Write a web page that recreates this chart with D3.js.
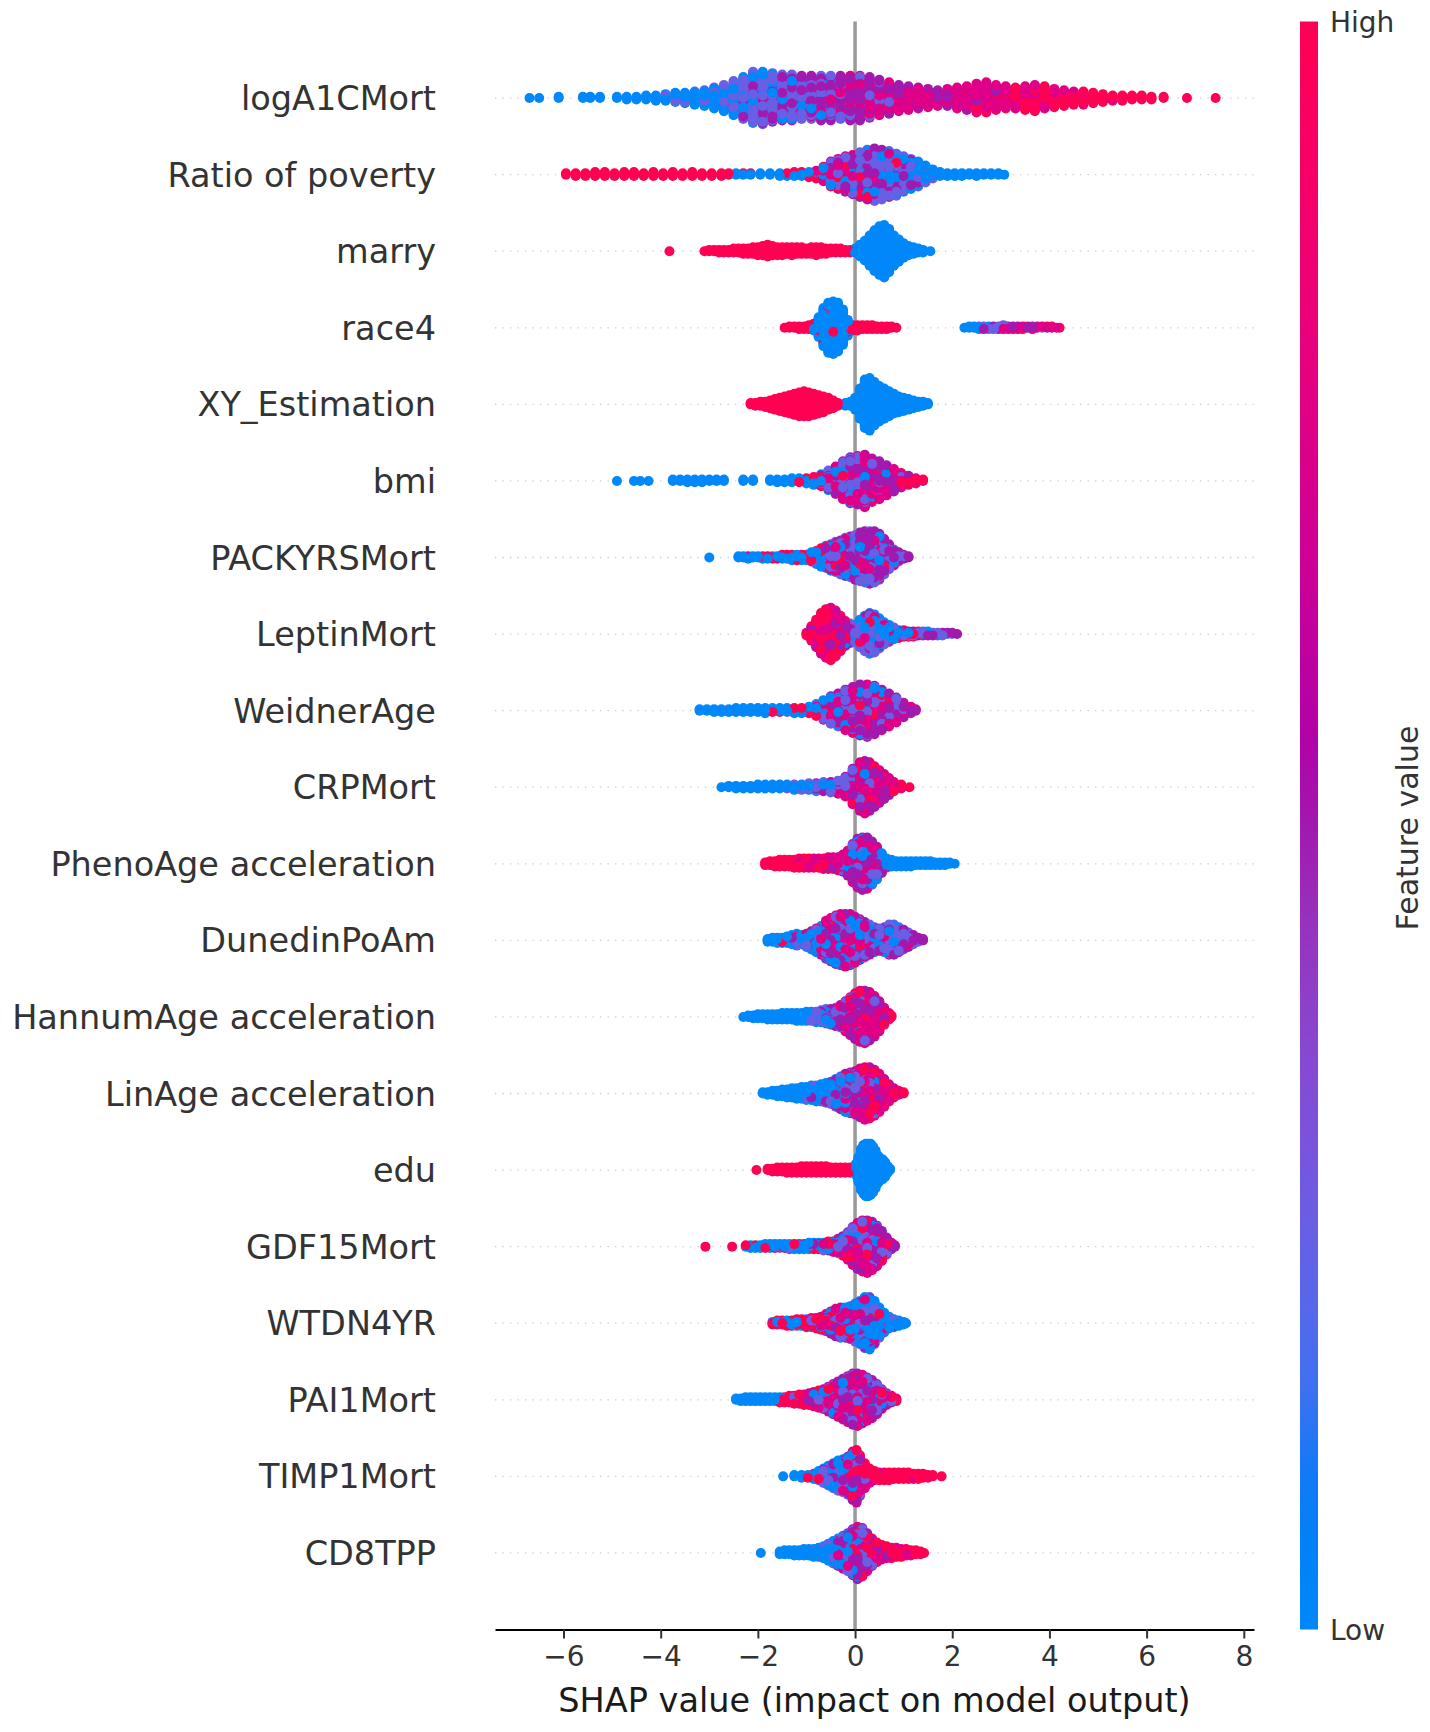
<!DOCTYPE html>
<html><head><meta charset="utf-8">
<script src="https://cdn.jsdelivr.net/npm/d3@7"></script>
<style>html,body{margin:0;padding:0;background:#fff}</style>
</head><body><svg id="chart" width="1430" height="1732"></svg>
<script>
// ---------------- DATA ----------------
const features = ["logA1CMort","Ratio of poverty","marry","race4","XY_Estimation","bmi","PACKYRSMort","LeptinMort","WeidnerAge","CRPMort","PhenoAge acceleration","DunedinPoAm","HannumAge acceleration","LinAge acceleration","edu","GDF15Mort","WTDN4YR","PAI1Mort","TIMP1Mort","CD8TPP"];
const featureLevels = [0, 0.25, 0.5, 0.75, 1];   // normalized feature value (Low -> High)
const xTicks = [-6,-4,-2,0,2,4,6,8];
const colorbarLabels = ["Low","High"];
// each entry: [SHAP value, number of samples at feature level 0, 0.25, 0.5, 0.75, 1]
const r_logA1CMort = [[-6.7,1,0,0,0,0],[-6.5,1,0,0,0,0],[-6.1,2,0,0,0,0],[-5.6,2,0,0,0,0],[-5.45,2,0,0,0,0],[-5.25,2,0,0,0,0],[-4.9,2,0,0,0,0],[-4.7,3,0,0,0,0],[-4.5,3,0,0,0,0],[-4.3,4,0,0,0,0],[-4.1,5,0,0,0,0],[-3.9,5,1,0,0,0],[-3.7,7,1,0,0,0],[-3.5,7,2,0,0,0],[-3.3,8,3,0,0,0],[-3.1,9,4,0,0,0],[-2.9,11,6,0,0,0],[-2.7,12,8,1,0,0],[-2.5,13,12,2,0,0],[-2.3,13,16,4,0,0],[-2.1,12,20,8,0,0],[-1.9,10,22,9,0,0],[-1.7,8,20,10,0,0],[-1.5,6,18,12,0,0],[-1.3,5,16,14,1,0],[-1.1,4,14,14,2,0],[-0.9,3,12,16,3,0],[-0.7,2,12,17,4,0],[-0.5,2,10,17,6,0],[-0.3,1,8,18,7,0],[-0.1,1,6,20,8,0],[0.1,0,5,20,10,0],[0.3,0,4,18,10,0],[0.5,0,3,14,11,0],[0.7,0,2,12,11,0],[0.9,0,1,9,11,0],[1.1,0,0,8,11,0],[1.3,0,0,6,11,0],[1.5,0,0,5,10,0],[1.7,0,0,4,9,0],[1.9,0,0,4,10,0],[2.1,0,0,4,12,1],[2.3,0,0,3,14,2],[2.5,0,0,3,16,4],[2.7,0,0,2,16,6],[2.9,0,0,1,13,6],[3.1,0,0,1,11,6],[3.3,0,0,0,9,8],[3.5,0,0,0,9,10],[3.7,0,0,0,9,12],[3.9,0,0,0,7,11],[4.1,0,0,0,5,10],[4.3,0,0,0,4,9],[4.5,0,0,0,3,8],[4.7,0,0,0,2,9],[4.9,0,0,0,2,7],[5.1,0,0,0,1,6],[5.3,0,0,0,1,4],[5.5,0,0,0,0,5],[5.7,0,0,0,0,4],[5.9,0,0,0,0,4],[6.1,0,0,0,0,3],[6.35,0,0,0,0,2],[6.83,0,0,0,0,1],[7.42,0,0,0,0,1]];
const r_poverty = [[-5.95,0,0,0,0,2],[-5.75,0,0,0,0,3],[-5.55,0,0,0,0,3],[-5.35,0,0,0,0,4],[-5.15,0,0,0,0,4],[-4.95,0,0,0,0,3],[-4.75,0,0,0,0,4],[-4.55,0,0,0,0,4],[-4.35,0,0,0,0,3],[-4.15,0,0,0,0,4],[-3.95,0,0,0,0,3],[-3.75,0,0,0,0,4],[-3.55,0,0,0,0,3],[-3.35,0,0,0,0,4],[-3.15,0,0,0,0,3],[-2.95,0,0,0,0,3],[-2.75,0,0,0,0,3],[-2.6,0,0,0,0,2],[-2.45,2,0,0,0,0],[-2.3,1,0,0,0,1],[-2.15,1,0,0,0,1],[-1.95,2,0,0,0,0],[-1.75,2,0,0,0,0],[-1.55,3,0,0,0,0],[-1.4,2,0,0,0,1],[-1.25,2,0,0,0,2],[-1.1,2,0,0,0,2],[-0.95,2,0,0,1,2],[-0.8,2,1,0,2,2],[-0.65,3,2,1,3,3],[-0.5,4,4,3,5,4],[-0.35,4,5,5,6,4],[-0.2,4,6,7,7,4],[-0.05,4,7,9,7,4],[0.1,5,9,11,6,4],[0.25,6,11,12,6,4],[0.4,7,13,12,6,3],[0.55,8,14,11,4,2],[0.7,9,14,9,3,1],[0.85,9,13,8,2,1],[1.0,9,11,6,2,0],[1.15,9,9,5,1,0],[1.3,9,7,4,0,0],[1.45,7,5,2,0,0],[1.6,5,2,1,0,0],[1.75,4,0,0,0,0],[1.9,3,0,0,0,0],[2.05,3,0,0,0,0],[2.2,3,0,0,0,0],[2.35,2,0,0,0,0],[2.5,3,0,0,0,0],[2.65,2,0,0,0,0],[2.8,2,0,0,0,0],[2.95,2,0,0,0,0],[3.07,1,0,0,0,0]];
const r_marry = [[-3.82,0,0,0,0,1],[-3.1,0,0,0,0,1],[-3.0,0,0,0,0,2],[-2.9,0,0,0,0,2],[-2.8,0,0,0,0,3],[-2.7,0,0,0,0,3],[-2.6,0,0,0,0,3],[-2.5,0,0,0,0,4],[-2.4,0,0,0,0,4],[-2.3,0,0,0,0,5],[-2.2,0,0,0,0,5],[-2.1,0,0,0,0,6],[-2.0,0,0,0,0,7],[-1.9,0,0,0,0,8],[-1.8,0,0,0,0,10],[-1.7,0,0,0,0,8],[-1.6,0,0,0,0,7],[-1.5,0,0,0,0,7],[-1.4,0,0,0,0,6],[-1.3,0,0,0,0,7],[-1.2,0,0,0,0,6],[-1.1,0,0,0,0,6],[-1.0,0,0,0,0,5],[-0.9,0,0,0,0,6],[-0.8,0,0,0,0,7],[-0.7,0,0,0,0,6],[-0.6,0,0,0,0,5],[-0.5,0,0,0,0,4],[-0.4,0,0,0,0,4],[-0.3,0,0,0,0,4],[-0.2,0,0,0,0,3],[-0.1,0,0,0,0,3],[0.0,4,0,0,0,0],[0.1,10,0,0,0,0],[0.2,16,0,0,0,0],[0.3,24,0,0,0,0],[0.4,32,0,0,0,0],[0.5,38,0,0,0,0],[0.6,41,0,0,0,0],[0.7,34,0,0,0,0],[0.8,24,0,0,0,0],[0.9,18,0,0,0,0],[1.0,12,0,0,0,0],[1.1,8,0,0,0,0],[1.2,6,0,0,0,0],[1.3,4,0,0,0,0],[1.4,3,0,0,0,0],[1.55,1,0,0,0,0]];
const r_race4 = [[-1.45,0,0,0,0,1],[-1.35,0,0,0,0,2],[-1.25,0,0,0,0,2],[-1.15,0,0,0,0,3],[-1.05,0,0,0,0,3],[-0.95,0,0,0,0,4],[-0.85,3,0,0,0,3],[-0.75,14,0,0,0,2],[-0.65,28,0,0,0,2],[-0.55,36,0,0,1,2],[-0.45,38,0,0,0,3],[-0.35,34,0,0,2,2],[-0.25,26,0,0,0,2],[-0.15,10,0,0,0,3],[-0.05,0,0,0,0,5],[0.05,0,0,0,0,5],[0.15,0,0,0,0,4],[0.25,0,0,0,0,4],[0.35,0,0,0,0,4],[0.45,0,0,0,0,3],[0.55,0,0,0,0,3],[0.65,0,0,0,0,3],[0.75,0,0,0,0,2],[0.85,0,0,0,0,1],[2.25,1,0,0,0,0],[2.35,2,0,0,0,0],[2.45,2,0,0,0,0],[2.55,2,1,0,0,0],[2.65,1,1,1,0,0],[2.75,1,2,0,0,0],[2.85,0,2,1,0,0],[2.95,1,1,1,0,0],[3.05,0,2,1,1,0],[3.15,1,0,1,1,0],[3.25,0,1,1,1,0],[3.35,0,0,1,2,0],[3.45,0,1,0,1,1],[3.55,0,0,1,1,0],[3.65,0,1,1,1,0],[3.75,0,0,1,1,0],[3.85,0,1,0,1,0],[3.95,0,0,1,0,1],[4.05,0,0,0,1,1],[4.15,0,0,0,1,0],[4.21,0,0,0,0,1]];
const r_xy = [[-2.15,0,0,0,0,2],[-2.05,0,0,0,0,3],[-1.95,0,0,0,0,4],[-1.85,0,0,0,0,5],[-1.75,0,0,0,0,7],[-1.65,0,0,0,0,9],[-1.55,0,0,0,0,11],[-1.45,0,0,0,0,13],[-1.35,0,0,0,0,15],[-1.25,0,0,0,0,17],[-1.15,0,0,0,0,19],[-1.05,0,0,0,0,20],[-0.95,0,0,0,0,19],[-0.85,0,0,0,0,17],[-0.75,0,0,0,0,15],[-0.65,0,0,0,0,13],[-0.55,0,0,0,0,10],[-0.45,0,0,0,0,7],[-0.35,0,0,0,0,3],[-0.2,3,0,0,0,0],[-0.1,4,0,0,0,0],[0.0,10,0,0,0,0],[0.1,24,0,0,0,0],[0.2,38,0,0,0,0],[0.3,41,0,0,0,0],[0.4,34,0,0,0,0],[0.5,28,0,0,0,0],[0.6,24,0,0,0,0],[0.7,20,0,0,0,0],[0.8,16,0,0,0,0],[0.9,13,0,0,0,0],[1.0,11,0,0,0,0],[1.1,9,0,0,0,0],[1.2,7,0,0,0,0],[1.3,5,0,0,0,0],[1.4,4,0,0,0,0],[1.5,2,0,0,0,0]];
const r_bmi = [[-4.9,1,0,0,0,0],[-4.55,1,0,0,0,0],[-4.42,1,0,0,0,0],[-4.25,1,0,0,0,0],[-3.75,2,0,0,0,0],[-3.6,2,0,0,0,0],[-3.45,3,0,0,0,0],[-3.3,3,0,0,0,0],[-3.15,3,0,0,0,0],[-3.0,2,0,0,0,0],[-2.85,2,0,0,0,0],[-2.7,2,0,0,0,0],[-2.3,2,0,0,0,0],[-2.1,2,0,0,0,0],[-1.75,2,0,0,0,0],[-1.6,3,0,0,0,0],[-1.45,3,0,0,0,0],[-1.3,4,0,0,0,0],[-1.15,3,0,0,0,1],[-1.0,3,0,0,0,2],[-0.85,4,1,0,0,2],[-0.7,3,2,1,2,2],[-0.55,4,4,3,3,2],[-0.4,5,5,5,5,2],[-0.25,5,7,9,7,2],[-0.1,5,8,11,10,2],[0.05,4,8,12,12,2],[0.2,3,8,14,14,2],[0.35,2,6,13,11,2],[0.5,1,5,12,10,2],[0.65,1,3,10,8,2],[0.8,0,2,7,7,2],[0.95,0,1,4,5,2],[1.1,0,0,2,4,2],[1.25,0,0,1,2,2],[1.4,0,0,0,1,1]];
const r_packyrs = [[-3.0,1,0,0,0,0],[-2.4,2,0,0,0,0],[-2.3,2,0,0,0,0],[-2.2,2,0,0,0,1],[-2.1,2,0,0,0,0],[-2.0,2,0,0,0,0],[-1.9,2,0,0,0,1],[-1.8,2,0,0,0,1],[-1.7,1,0,0,0,2],[-1.6,1,0,0,0,2],[-1.5,2,0,0,0,2],[-1.4,2,0,0,0,2],[-1.3,3,0,0,0,2],[-1.2,2,0,0,0,3],[-1.1,3,0,0,0,2],[-1.0,3,0,0,0,2],[-0.9,4,1,0,0,3],[-0.8,5,2,0,1,3],[-0.7,6,3,0,2,4],[-0.6,6,4,2,3,3],[-0.5,6,5,3,4,3],[-0.4,6,6,5,4,3],[-0.3,6,7,6,5,3],[-0.2,6,8,7,6,3],[-0.1,6,8,8,7,3],[0.0,6,9,10,8,2],[0.1,6,10,12,8,2],[0.2,5,11,14,8,2],[0.3,5,11,15,8,2],[0.4,5,11,15,7,2],[0.5,4,10,14,6,2],[0.6,3,8,12,4,1],[0.7,2,6,9,3,0],[0.8,1,4,6,2,0],[0.9,0,3,4,1,0],[1.0,0,1,3,0,0],[1.1,0,0,2,0,0]];
const r_leptin = [[-1.0,0,0,0,1,2],[-0.9,0,0,1,4,7],[-0.8,0,0,2,8,12],[-0.7,0,0,4,10,18],[-0.6,0,0,5,12,21],[-0.5,0,1,6,13,21],[-0.4,0,2,6,12,16],[-0.3,0,2,6,10,10],[-0.2,2,3,5,6,4],[-0.1,4,4,3,3,2],[0.0,6,4,2,1,1],[0.1,10,7,3,1,1],[0.2,12,9,4,2,1],[0.3,13,10,5,3,1],[0.4,12,9,5,3,1],[0.5,10,7,4,2,1],[0.6,7,5,3,2,1],[0.7,5,4,2,2,1],[0.8,3,3,1,1,2],[0.9,2,1,0,1,3],[1.0,1,1,0,1,3],[1.1,1,1,0,1,2],[1.2,1,1,1,0,2],[1.3,1,1,1,0,1],[1.4,2,1,0,0,1],[1.5,2,1,1,0,0],[1.6,1,1,1,0,0],[1.7,2,1,0,0,0],[1.8,0,2,1,0,0],[1.9,1,0,1,0,0],[2.0,0,1,1,0,0],[2.1,0,0,1,0,0]];
const r_weidner = [[-3.2,2,0,0,0,0],[-3.05,2,0,0,0,0],[-2.9,3,0,0,0,0],[-2.75,3,0,0,0,0],[-2.6,3,0,0,0,0],[-2.45,4,0,0,0,0],[-2.3,4,0,0,0,0],[-2.15,4,0,0,0,0],[-2.0,4,0,0,0,0],[-1.85,4,0,0,0,1],[-1.7,3,0,0,0,1],[-1.55,3,0,0,0,1],[-1.4,3,1,0,0,0],[-1.25,3,1,0,0,1],[-1.1,3,1,0,0,1],[-0.95,3,1,0,0,2],[-0.8,4,2,1,1,2],[-0.65,5,3,3,3,2],[-0.5,5,5,6,4,2],[-0.35,5,6,8,5,2],[-0.2,5,7,11,7,2],[-0.05,5,8,12,8,3],[0.1,5,9,14,9,3],[0.25,5,9,14,10,3],[0.4,4,8,14,9,3],[0.55,3,7,12,8,2],[0.7,2,6,10,6,2],[0.85,1,4,8,5,2],[1.0,0,3,5,3,1],[1.15,0,1,2,2,1],[1.25,0,0,1,1,0]];
const r_crp = [[-2.75,1,0,0,0,0],[-2.6,2,0,0,0,0],[-2.45,3,0,0,0,0],[-2.3,3,0,0,0,0],[-2.15,3,0,0,0,0],[-2.0,4,0,0,0,0],[-1.85,4,0,0,0,0],[-1.7,4,0,0,0,0],[-1.55,4,0,0,0,0],[-1.4,3,1,0,0,0],[-1.25,3,2,0,0,0],[-1.1,2,3,0,0,0],[-0.95,2,3,1,0,0],[-0.8,2,3,2,0,0],[-0.65,1,4,3,0,0],[-0.5,1,4,3,1,0],[-0.35,1,4,4,2,0],[-0.2,1,4,6,4,1],[-0.05,2,5,10,9,2],[0.1,2,5,13,14,4],[0.2,1,5,14,16,5],[0.3,1,4,13,15,5],[0.4,0,3,11,13,5],[0.5,0,2,9,11,4],[0.6,0,1,7,9,3],[0.7,0,0,4,7,3],[0.8,0,0,2,4,2],[0.95,0,0,0,2,2],[1.12,0,0,0,0,1]];
const r_pheno = [[-1.85,0,0,0,0,3],[-1.75,0,0,0,0,4],[-1.65,0,0,0,0,5],[-1.55,0,0,0,0,6],[-1.45,0,0,0,0,6],[-1.35,0,0,0,0,6],[-1.25,0,0,0,0,7],[-1.15,0,0,0,2,6],[-1.05,0,0,0,3,5],[-0.95,0,0,0,4,4],[-0.85,0,0,0,5,3],[-0.75,0,0,0,5,3],[-0.65,0,0,1,6,2],[-0.55,0,0,2,6,2],[-0.45,0,0,2,6,2],[-0.35,0,1,3,6,1],[-0.25,1,2,4,6,1],[-0.15,2,4,6,7,1],[-0.05,3,7,10,9,1],[0.05,4,9,13,11,1],[0.15,5,10,14,11,1],[0.25,5,10,14,10,1],[0.35,5,9,11,8,1],[0.45,5,7,8,6,0],[0.55,5,4,4,3,0],[0.65,5,2,1,0,0],[0.75,6,0,0,0,0],[0.85,5,0,0,0,0],[0.95,5,0,0,0,0],[1.05,5,0,0,0,0],[1.15,5,0,0,0,0],[1.25,4,0,0,0,0],[1.35,4,0,0,0,0],[1.45,4,0,0,0,0],[1.55,4,0,0,0,0],[1.65,3,0,0,0,0],[1.75,3,0,0,0,0],[1.85,3,0,0,0,0],[1.95,2,0,0,0,0],[2.05,1,0,0,0,0]];
const r_dunedin = [[-1.8,3,0,0,0,0],[-1.7,4,0,0,0,0],[-1.6,5,0,0,0,0],[-1.5,4,0,0,0,1],[-1.4,5,0,0,1,0],[-1.3,6,0,1,0,1],[-1.2,6,2,0,1,1],[-1.1,5,1,0,1,1],[-1.0,5,2,1,2,1],[-0.9,6,3,2,3,1],[-0.8,6,4,4,4,1],[-0.7,6,5,5,6,1],[-0.6,6,6,8,8,2],[-0.5,6,7,9,9,3],[-0.4,6,8,10,11,3],[-0.3,6,8,11,12,3],[-0.2,6,8,11,13,3],[-0.1,6,8,11,12,3],[0.0,6,8,10,9,3],[0.1,6,8,8,8,2],[0.2,6,7,8,5,2],[0.3,6,7,6,4,1],[0.4,6,6,5,2,1],[0.5,5,6,5,2,0],[0.6,6,7,5,2,0],[0.7,6,9,7,2,0],[0.8,5,9,8,2,0],[0.9,4,8,7,1,0],[1.0,3,6,6,1,0],[1.1,2,5,4,1,0],[1.2,1,3,4,0,0],[1.3,0,2,2,0,0],[1.4,0,0,2,0,0]];
const r_hannum = [[-2.3,1,0,0,0,0],[-2.2,2,0,0,0,0],[-2.1,3,0,0,0,0],[-2.0,4,0,0,0,0],[-1.9,4,0,0,0,0],[-1.8,5,0,0,0,0],[-1.7,5,0,0,0,0],[-1.6,5,0,0,0,0],[-1.5,6,0,0,0,0],[-1.4,6,0,0,0,0],[-1.3,6,0,0,0,0],[-1.2,7,0,0,0,0],[-1.1,7,0,0,0,0],[-1.0,7,1,0,0,0],[-0.9,6,2,0,0,0],[-0.8,5,3,1,0,0],[-0.7,4,4,2,0,0],[-0.6,4,5,3,0,0],[-0.5,3,5,4,1,0],[-0.4,3,5,5,2,0],[-0.3,2,5,6,4,1],[-0.2,2,5,8,7,2],[-0.1,2,5,9,11,3],[0.0,1,5,10,15,5],[0.1,1,4,11,17,7],[0.2,1,4,11,17,8],[0.3,0,3,10,17,8],[0.4,0,2,9,14,7],[0.5,0,1,7,10,6],[0.6,0,0,3,7,4],[0.7,0,0,1,3,2],[0.75,0,0,0,1,1]];
const r_linage = [[-1.9,2,0,0,0,0],[-1.8,3,0,0,0,0],[-1.7,4,0,0,0,0],[-1.6,5,0,0,0,0],[-1.5,6,0,0,0,0],[-1.4,7,0,0,0,0],[-1.3,8,0,0,0,0],[-1.2,8,1,0,0,0],[-1.1,9,1,0,0,0],[-1.0,9,2,0,0,0],[-0.9,9,2,1,0,0],[-0.8,9,3,1,0,0],[-0.7,9,3,1,1,0],[-0.6,9,4,2,1,0],[-0.5,9,4,3,1,1],[-0.4,9,5,4,3,1],[-0.3,8,6,6,4,2],[-0.2,7,6,7,6,4],[-0.1,6,6,8,7,5],[0.0,5,6,8,10,5],[0.1,4,5,9,13,7],[0.2,3,5,9,15,9],[0.3,2,4,9,15,10],[0.4,1,3,8,14,10],[0.5,0,2,7,12,9],[0.6,0,1,5,9,7],[0.7,0,0,3,6,5],[0.8,0,0,1,4,3],[0.9,0,0,0,2,2],[1.0,0,0,0,0,2]];
const r_edu = [[-2.03,0,0,0,0,1],[-1.8,0,0,0,0,2],[-1.7,0,0,0,0,3],[-1.6,0,0,0,0,4],[-1.5,0,0,0,0,4],[-1.4,0,0,0,0,5],[-1.3,0,0,0,0,5],[-1.2,0,0,0,0,5],[-1.1,0,0,0,0,6],[-1.0,0,0,0,0,6],[-0.9,0,0,0,0,6],[-0.8,0,0,0,0,6],[-0.7,0,0,0,0,6],[-0.6,0,0,0,0,6],[-0.5,0,0,0,0,5],[-0.4,0,0,0,0,5],[-0.3,0,0,0,0,5],[-0.2,0,0,0,0,5],[-0.1,0,0,0,0,5],[-0.02,0,0,0,0,4],[0.02,10,0,0,0,0],[0.07,20,0,0,0,0],[0.12,32,0,0,0,0],[0.17,38,0,0,0,0],[0.22,41,0,0,0,0],[0.27,41,0,0,0,0],[0.32,40,0,0,0,0],[0.37,36,0,0,0,0],[0.42,30,0,0,0,0],[0.47,22,0,0,0,0],[0.52,18,0,0,0,0],[0.57,16,0,0,0,0],[0.62,12,0,0,0,0],[0.67,6,0,0,0,0],[0.72,2,0,0,0,0]];
const r_gdf15 = [[-3.08,0,0,0,0,1],[-2.53,0,0,0,0,1],[-2.25,1,0,0,0,1],[-2.15,3,0,0,0,0],[-2.05,2,0,0,0,1],[-1.95,3,0,0,0,0],[-1.85,3,0,0,0,1],[-1.75,4,0,0,0,0],[-1.65,3,0,0,0,1],[-1.55,3,1,0,0,0],[-1.45,3,0,0,0,1],[-1.35,4,1,0,0,0],[-1.25,3,1,0,0,1],[-1.15,3,1,0,0,1],[-1.05,3,1,0,1,0],[-0.95,3,2,0,0,1],[-0.85,3,1,1,0,1],[-0.75,3,1,1,0,1],[-0.65,2,2,1,1,1],[-0.55,2,2,2,0,2],[-0.45,2,2,2,2,1],[-0.35,2,3,3,2,2],[-0.25,2,3,5,4,2],[-0.15,3,4,7,6,2],[-0.05,3,5,10,9,3],[0.05,3,6,11,12,4],[0.15,3,7,12,13,5],[0.25,3,7,13,13,5],[0.35,3,6,13,12,4],[0.45,2,5,11,10,4],[0.55,1,4,9,7,3],[0.65,1,2,5,4,2],[0.75,0,1,2,2,1],[0.82,0,0,1,1,0]];
const r_wtdn = [[-1.7,1,0,0,0,2],[-1.6,1,0,0,0,3],[-1.5,1,0,0,0,3],[-1.4,2,0,0,0,3],[-1.3,1,0,0,0,4],[-1.2,2,0,0,0,4],[-1.1,2,0,0,0,4],[-1.0,2,0,0,1,4],[-0.9,2,1,0,1,4],[-0.8,2,1,1,2,3],[-0.7,2,2,2,2,3],[-0.6,3,2,3,3,3],[-0.5,4,3,4,4,3],[-0.4,5,4,5,5,3],[-0.3,6,4,6,5,3],[-0.2,7,4,6,4,3],[-0.1,9,5,5,4,3],[0.0,12,6,5,4,3],[0.1,15,7,5,4,3],[0.2,20,8,5,4,3],[0.3,22,8,5,3,3],[0.4,19,7,4,2,2],[0.5,14,5,3,1,1],[0.6,10,3,2,1,0],[0.7,7,2,1,0,0],[0.8,5,1,1,0,0],[0.9,4,1,0,0,0],[1.0,3,0,0,0,0],[1.05,1,0,0,0,0]];
const r_pai1 = [[-2.45,2,0,0,0,0],[-2.35,3,0,0,0,0],[-2.25,4,0,0,0,0],[-2.15,4,0,0,0,0],[-2.05,4,0,0,0,0],[-1.95,4,0,0,0,0],[-1.85,4,0,0,0,0],[-1.75,4,0,0,0,0],[-1.65,4,0,0,0,0],[-1.55,2,0,0,0,3],[-1.45,1,0,0,1,3],[-1.35,1,0,0,2,3],[-1.25,1,1,0,2,3],[-1.15,1,1,1,2,3],[-1.05,1,1,1,3,3],[-0.95,1,2,2,3,2],[-0.85,2,2,2,3,3],[-0.75,2,3,3,3,3],[-0.65,2,3,4,4,3],[-0.55,3,4,6,5,2],[-0.45,3,5,7,7,2],[-0.35,3,6,9,8,2],[-0.25,3,7,10,9,3],[-0.15,3,8,11,11,3],[-0.05,4,8,12,12,4],[0.05,4,8,12,13,4],[0.15,4,7,12,12,3],[0.25,3,7,11,10,3],[0.35,3,6,10,9,2],[0.45,2,5,8,7,2],[0.55,1,3,6,5,1],[0.65,1,2,3,3,1],[0.75,0,1,2,2,1],[0.85,0,0,1,1,1]];
const r_timp1 = [[-1.48,1,0,0,0,0],[-1.25,2,0,0,0,0],[-1.1,3,0,0,0,0],[-0.97,1,0,0,0,2],[-0.85,3,1,0,0,1],[-0.75,4,2,1,0,1],[-0.65,5,4,2,0,1],[-0.55,6,5,3,1,1],[-0.45,7,6,4,2,1],[-0.35,8,7,5,3,1],[-0.25,8,7,6,4,1],[-0.15,7,7,7,6,3],[-0.05,6,7,9,9,7],[0.03,4,6,10,11,10],[0.1,2,4,8,9,9],[0.2,1,2,4,6,7],[0.3,0,0,2,4,6],[0.4,0,0,1,2,5],[0.5,0,0,0,2,5],[0.6,0,0,0,1,6],[0.7,0,0,0,1,6],[0.8,0,0,0,1,5],[0.9,0,0,0,0,6],[1.0,0,0,0,1,5],[1.1,0,0,0,0,6],[1.2,0,0,0,1,4],[1.3,0,0,0,0,5],[1.4,0,0,0,0,4],[1.5,0,0,0,0,3],[1.6,0,0,0,0,2],[1.78,0,0,0,0,1]];
const r_cd8 = [[-1.94,1,0,0,0,0],[-1.55,3,0,0,0,0],[-1.45,4,0,0,0,0],[-1.35,4,0,0,0,0],[-1.25,5,0,0,0,0],[-1.15,5,0,0,0,0],[-1.05,6,0,0,0,0],[-0.95,6,0,0,0,0],[-0.85,6,1,0,0,0],[-0.75,7,1,0,0,0],[-0.65,8,2,0,0,0],[-0.55,10,3,1,0,0],[-0.45,10,4,3,1,0],[-0.35,9,5,5,2,1],[-0.25,8,6,7,4,1],[-0.15,7,7,9,5,2],[-0.05,6,8,11,8,3],[0.05,5,8,13,10,5],[0.15,3,7,12,10,6],[0.25,2,5,9,8,6],[0.35,1,3,6,6,6],[0.45,0,1,4,5,6],[0.55,0,0,2,4,6],[0.65,0,0,1,3,6],[0.75,0,0,0,3,6],[0.85,0,0,0,2,6],[0.95,0,0,0,2,5],[1.05,0,0,0,1,5],[1.15,0,0,0,1,4],[1.25,0,0,0,0,4],[1.35,0,0,0,0,3],[1.42,0,0,0,0,1]];
const rows = [r_logA1CMort, r_poverty, r_marry, r_race4, r_xy, r_bmi, r_packyrs, r_leptin, r_weidner, r_crp, r_pheno, r_dunedin, r_hannum, r_linage, r_edu, r_gdf15, r_wtdn, r_pai1, r_timp1, r_cd8];

// ---------------- CHART ----------------
const W = 1430, H = 1732;
const FONT = "'DejaVu Sans', sans-serif";
const svg = d3.select("#chart");
svg.append("rect").attr("width", W).attr("height", H).attr("fill", "#fff");

const axTop = 21.5, axBottom = 1629.5, axLeft = 495, axRight = 1254;
const x = d3.scaleLinear().domain([-7.41, 8.21]).range([axLeft, axRight]);
const nF = features.length;
const y = d3.scaleLinear().domain([-1, nF]).range([axBottom, axTop]);

// shap red_blue colormap (LCH interpolation)
function shapRedBlue(t) {
  t = Math.max(0, Math.min(1, t));
  const L = t < 0.5 ? 54 + (40 - 54) * (t / 0.5) : 40 + (54 - 40) * ((t - 0.5) / 0.5);
  const C = 70 + 20 * t;
  const Hh = 266.93 + (380.32 - 266.93) * t;
  return d3.hcl(Hh, C, L).formatHex();
}
const color = d3.scaleSequential(shapRedBlue).domain([0, 1]);

// grid lines (dotted) and zero line
const gGrid = svg.append("g");
features.forEach((f, k) => {
  const pos = nF - 1 - k;
  gGrid.append("line").attr("x1", axLeft).attr("x2", axRight)
    .attr("y1", y(pos)).attr("y2", y(pos))
    .attr("stroke", "#cccccc").attr("stroke-width", 1.3).attr("stroke-dasharray", "1.3,6.2");
});
svg.append("line").attr("x1", x(0)).attr("x2", x(0)).attr("y1", axTop).attr("y2", axBottom)
  .attr("stroke", "#999999").attr("stroke-width", 3.5);

// beeswarm points
const gPts = svg.append("g");
rows.forEach((entries, k) => {
  const pos = nF - 1 - k;
  const pts = [];
  entries.forEach(e => {
    for (let lev = 0; lev < featureLevels.length; lev++) {
      const n = e[lev + 1];
      for (let i = 0; i < n; i++) pts.push({ v: e[0], c: featureLevels[lev], key: (i + 0.5) / n });
    }
  });
  const vmin = d3.min(pts, p => p.v), vmax = d3.max(pts, p => p.v);
  pts.forEach(p => p.q = Math.round(100 * (p.v - vmin) / (vmax - vmin + 1e-8)));
  const sorted = pts.slice().sort((a, b) => (a.q - b.q) || (a.key - b.key));
  let layer = 0, last = -1;
  sorted.forEach(p => {
    if (p.q !== last) layer = 0;
    p.ys = Math.ceil(layer / 2) * ((layer % 2) * 2 - 1);
    layer++; last = p.q;
  });
  const maxYs = d3.max(pts, p => p.ys + 1);
  pts.forEach(p => p.ys *= 0.9 * (0.4 / maxYs));
  pts.forEach((p, i) => p.ord = (i * 0.6180339887) % 1);
  pts.sort((a, b) => a.ord - b.ord);
  gPts.append("g").selectAll("circle").data(pts).join("circle")
    .attr("cx", p => x(p.v)).attr("cy", p => y(pos + p.ys))
    .attr("r", 5).attr("fill", p => color(p.c));
});

// feature labels
svg.append("g").selectAll("text").data(features).join("text")
  .attr("x", 436).attr("y", (d, k) => y(nF - 1 - k) + 12)
  .attr("text-anchor", "end").attr("font-family", FONT).attr("font-size", 33.5)
  .attr("fill", "#333333").text(d => d);

// x axis
const xAxis = d3.axisBottom(x).tickValues(xTicks).tickSize(9).tickSizeOuter(0).tickPadding(8)
  .tickFormat(d3.format("d"));
const gx = svg.append("g").attr("transform", `translate(0,${axBottom})`).call(xAxis);
gx.select(".domain").attr("stroke", "#000").attr("stroke-width", 2);
gx.selectAll(".tick line").attr("stroke", "#333333").attr("stroke-width", 2);
gx.selectAll(".tick text").attr("font-family", FONT).attr("font-size", 28).attr("fill", "#333333");
svg.append("text").attr("x", (axLeft + axRight) / 2).attr("y", 1712)
  .attr("text-anchor", "middle").attr("font-family", FONT).attr("font-size", 33.5)
  .attr("fill", "#1a1a1a").text("SHAP value (impact on model output)");

// colorbar
const defs = svg.append("defs");
const grad = defs.append("linearGradient").attr("id", "cbar").attr("x1", 0).attr("x2", 0).attr("y1", 1).attr("y2", 0);
d3.range(0, 1.0001, 0.05).forEach(t => grad.append("stop").attr("offset", t).attr("stop-color", color(t)));
const cbX = 1300, cbW = 18;
svg.append("rect").attr("x", cbX).attr("y", axTop).attr("width", cbW).attr("height", axBottom - axTop)
  .attr("fill", "url(#cbar)");
const cbScale = d3.scaleLinear().domain([0, 1]).range([axBottom, axTop]);
svg.append("g").selectAll("text").data(colorbarLabels).join("text")
  .attr("x", cbX + cbW + 12).attr("y", (d, i) => cbScale(i) + 10)
  .attr("font-family", FONT).attr("font-size", 28).attr("fill", "#333333").text(d => d);
svg.append("text").attr("transform", `translate(1418,828) rotate(-90)`)
  .attr("text-anchor", "middle").attr("font-family", FONT).attr("font-size", 30)
  .attr("fill", "#333333").text("Feature value");
</script>
</body></html>
